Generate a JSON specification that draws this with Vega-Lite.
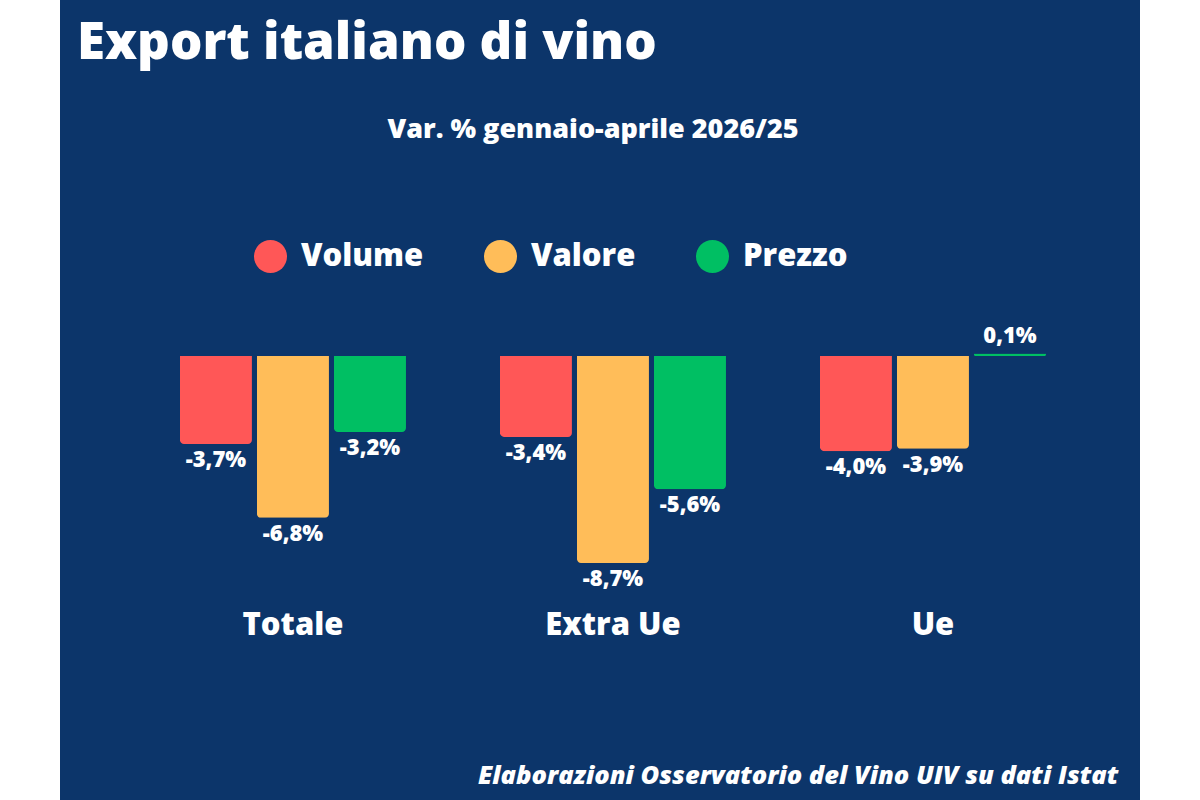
{
  "$schema": "https://vega.github.io/schema/vega-lite/v6.json",
  "background": "#0c356a",
  "padding": 0,
  "spacing": 0,
  "title": {
    "text": "Export italiano di vino",
    "anchor": "start",
    "orient": "top",
    "dx": 77,
    "dy": 4,
    "offset": -106,
    "baseline": "alphabetic",
    "font": "Open Sans",
    "fontSize": 51,
    "fontWeight": 800,
    "color": "white"
  },
  "config": {
    "view": {"stroke": null},
    "font": "Open Sans"
  },
  "hconcat": [
    {
      "width": 60,
      "height": 800,
      "view": {"fill": "white", "stroke": null},
      "data": {"values": [{}]},
      "mark": {"type": "point", "opacity": 0},
      "encoding": {}
    },
    {
      "width": 1080,
      "height": 800,
      "title": {
        "text": "Var. % gennaio-aprile 2026/25",
        "anchor": "middle",
        "dx": -7,
        "offset": -165,
        "baseline": "alphabetic",
        "font": "Open Sans",
        "fontSize": 27,
        "fontWeight": 800,
        "color": "white"
      },
      "data": {
        "values": [
          {"gruppo": "Totale", "misura": "Volume", "valore": -3.7, "etichetta": "-3,7%"},
          {"gruppo": "Totale", "misura": "Valore", "valore": -6.8, "etichetta": "-6,8%"},
          {"gruppo": "Totale", "misura": "Prezzo", "valore": -3.2, "etichetta": "-3,2%"},
          {"gruppo": "Extra Ue", "misura": "Volume", "valore": -3.4, "etichetta": "-3,4%"},
          {"gruppo": "Extra Ue", "misura": "Valore", "valore": -8.7, "etichetta": "-8,7%"},
          {"gruppo": "Extra Ue", "misura": "Prezzo", "valore": -5.6, "etichetta": "-5,6%"},
          {"gruppo": "Ue", "misura": "Volume", "valore": -4.0, "etichetta": "-4,0%"},
          {"gruppo": "Ue", "misura": "Valore", "valore": -3.9, "etichetta": "-3,9%"},
          {"gruppo": "Ue", "misura": "Prezzo", "valore": 0.1, "etichetta": "0,1%"}
        ]
      },
      "encoding": {
        "x": {
          "field": "gruppo",
          "type": "nominal",
          "sort": ["Totale", "Extra Ue", "Ue"],
          "scale": {"paddingInner": 0, "paddingOuter": 0.1875, "align": 0.608},
          "axis": {
            "orient": "bottom",
            "offset": -175,
            "domain": false,
            "ticks": false,
            "tickSize": 0,
            "grid": false,
            "labelPadding": 0,
            "labelAngle": 0,
            "labelBaseline": "middle",
            "labelFont": "Open Sans",
            "labelFontSize": 31,
            "labelFontWeight": 800,
            "labelColor": "white",
            "title": "Elaborazioni Osservatorio del Vino UIV su dati Istat",
            "titleFont": "Open Sans",
            "titleFontSize": 25.5,
            "titleFontWeight": 800,
            "titleFontStyle": "italic",
            "titleColor": "white",
            "titleAlign": "right",
            "titleBaseline": "alphabetic",
            "titleX": 1058,
            "titleY": 158
          }
        },
        "xOffset": {
          "field": "misura",
          "type": "nominal",
          "sort": ["Volume", "Valore", "Prezzo"],
          "scale": {"paddingInner": 0.065, "paddingOuter": 0.61}
        },
        "y": {
          "field": "valore",
          "type": "quantitative",
          "scale": {"domain": [-18.66, 14.96], "nice": false, "zero": false},
          "axis": null
        }
      },
      "layer": [
        {
          "mark": {"type": "bar", "cornerRadiusBottomLeft": 4, "cornerRadiusBottomRight": 4},
          "encoding": {
            "color": {
              "field": "misura",
              "type": "nominal",
              "sort": ["Volume", "Valore", "Prezzo"],
              "scale": {"domain": ["Volume", "Valore", "Prezzo"], "range": ["#ff5757", "#ffbd59", "#00bf63"]},
              "legend": {
                "orient": "none",
                "direction": "horizontal",
                "legendX": 254,
                "legendY": 240,
                "title": null,
                "symbolType": "circle",
                "symbolSize": 1089,
                "symbolStrokeWidth": 0,
                "symbolOpacity": 1,
                "labelFont": "Open Sans",
                "labelFontSize": 31,
                "labelFontWeight": 800,
                "labelColor": "white",
                "labelOffset": 14,
                "columnPadding": 60,
                "padding": 0
              }
            }
          }
        },
        {
          "transform": [{"filter": "datum.valore < 0"}],
          "mark": {"type": "text", "baseline": "top", "dy": 6, "font": "Open Sans", "fontSize": 22, "fontWeight": 800, "color": "white"},
          "encoding": {"text": {"field": "etichetta"}}
        },
        {
          "transform": [{"filter": "datum.valore >= 0"}],
          "mark": {"type": "text", "baseline": "alphabetic", "dy": -11, "font": "Open Sans", "fontSize": 22, "fontWeight": 800, "color": "white"},
          "encoding": {"text": {"field": "etichetta"}}
        }
      ]
    },
    {
      "width": 60,
      "height": 800,
      "view": {"fill": "white", "stroke": null},
      "data": {"values": [{}]},
      "mark": {"type": "point", "opacity": 0},
      "encoding": {}
    }
  ]
}
